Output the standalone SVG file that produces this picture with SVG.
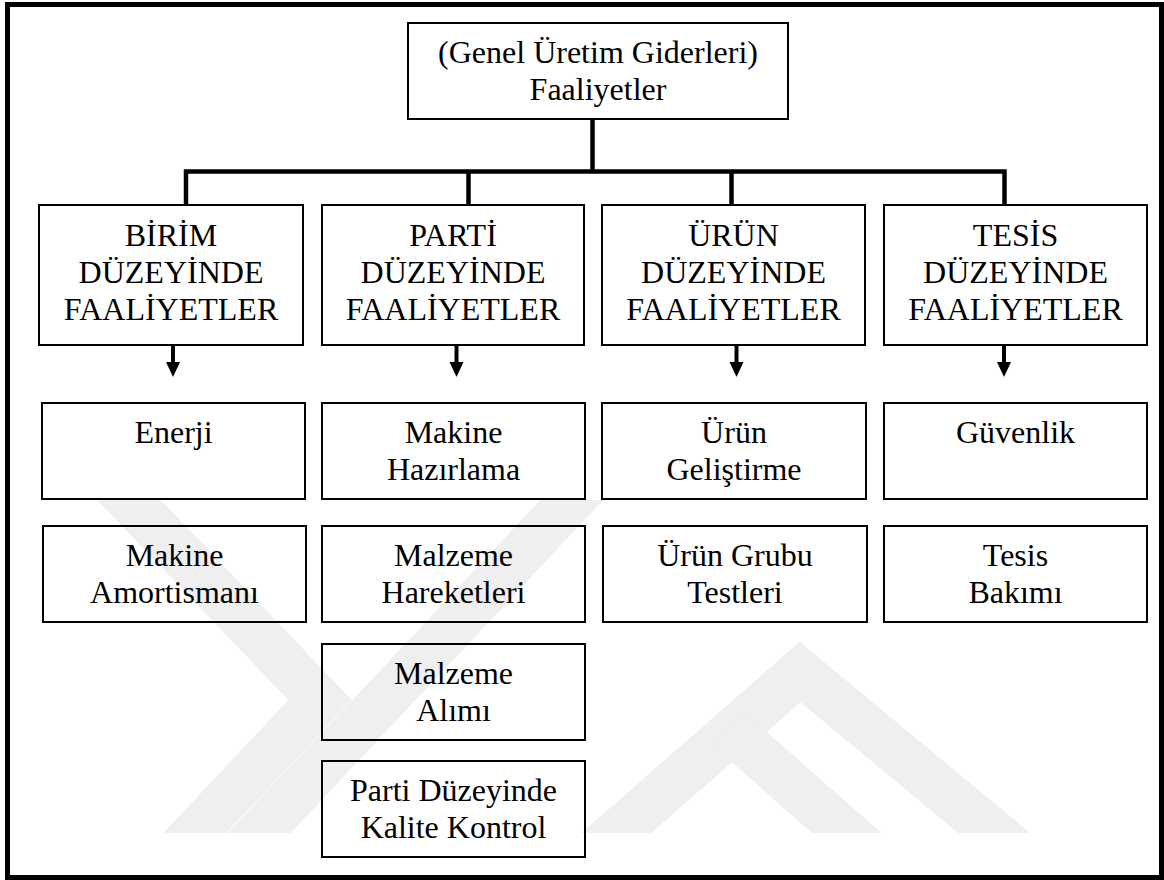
<svg xmlns="http://www.w3.org/2000/svg" width="1164" height="880" viewBox="0 0 1164 880">
<style>
.box{fill:none;stroke:#000;stroke-width:2}
.t{font-family:'Liberation Serif','Times New Roman',serif;font-size:32px;fill:#000;text-anchor:middle}
.wm{stroke:#efefef;stroke-width:46;fill:none;stroke-linecap:butt;stroke-linejoin:miter}
.conn{stroke:#000;stroke-width:4.5;fill:none}
</style>
<defs>
<clipPath id="wmclip"><rect x="0" y="500" width="1164" height="333"/></clipPath>
</defs>
<rect x="0" y="0" width="1164" height="880" fill="#fff"/>
<g id="watermark" clip-path="url(#wmclip)">
<path class="wm" d="M110,480 L320,700 L160,870"/>
<path class="wm" d="M600,470 L215,880"/>
<path class="wm" d="M540,900 L800,672 L1075,900"/>
<path class="wm" d="M900,880 L730,730"/>
</g>
<rect x="7.5" y="4.5" width="1154" height="873" fill="none" stroke="#000" stroke-width="5"/>
<g id="connectors">
<path class="conn" d="M592.5,119 V171.5"/>
<path class="conn" d="M186,205 V171.5 H1004.5 V205"/>
<path class="conn" d="M468.5,171.5 V205"/>
<path class="conn" d="M731.5,171.5 V205"/>
<g stroke="#000" stroke-width="4">
<line x1="173" y1="345" x2="173" y2="364"/>
<line x1="456.5" y1="345" x2="456.5" y2="364"/>
<line x1="736.5" y1="345" x2="736.5" y2="364"/>
<line x1="1004" y1="345" x2="1004" y2="364"/>
</g>
<g fill="#000">
<polygon points="166,362 180,362 173,377"/>
<polygon points="449.5,362 463.5,362 456.5,377"/>
<polygon points="729.5,362 743.5,362 736.5,377"/>
<polygon points="997,362 1011,362 1004,377"/>
</g>
</g>
<g id="root">
<rect class="box" x="408" y="23" width="380" height="96" fill="#fff"/>
<text class="t" x="598" y="63">(Genel Üretim Giderleri)</text>
<text class="t" x="598" y="100">Faaliyetler</text>
</g>
<g id="birim">
<rect class="box" x="39" y="205" width="264" height="140"/>
<text class="t" x="171" y="246">BİRİM</text>
<text class="t" x="171" y="283">DÜZEYİNDE</text>
<text class="t" x="171" y="320">FAALİYETLER</text>
</g>
<g id="parti">
<rect class="box" x="322" y="205" width="262" height="140"/>
<text class="t" x="453" y="246">PARTİ</text>
<text class="t" x="453" y="283">DÜZEYİNDE</text>
<text class="t" x="453" y="320">FAALİYETLER</text>
</g>
<g id="urun">
<rect class="box" x="602" y="205" width="263" height="140"/>
<text class="t" x="733.5" y="246">ÜRÜN</text>
<text class="t" x="733.5" y="283">DÜZEYİNDE</text>
<text class="t" x="733.5" y="320">FAALİYETLER</text>
</g>
<g id="tesis">
<rect class="box" x="884" y="205" width="263" height="140"/>
<text class="t" x="1015.5" y="246">TESİS</text>
<text class="t" x="1015.5" y="283">DÜZEYİNDE</text>
<text class="t" x="1015.5" y="320">FAALİYETLER</text>
</g>
<g id="enerji">
<rect class="box" x="42" y="403" width="263" height="96"/>
<text class="t" x="173.5" y="443">Enerji</text>
</g>
<g id="makine-amortismani">
<rect class="box" x="43" y="526" width="263" height="96"/>
<text class="t" x="174.5" y="566">Makine</text>
<text class="t" x="174.5" y="603">Amortismanı</text>
</g>
<g id="makine-hazirlama">
<rect class="box" x="322" y="403" width="263" height="96"/>
<text class="t" x="453.5" y="443">Makine</text>
<text class="t" x="453.5" y="480">Hazırlama</text>
</g>
<g id="malzeme-hareketleri">
<rect class="box" x="322" y="526" width="263" height="96"/>
<text class="t" x="453.5" y="566">Malzeme</text>
<text class="t" x="453.5" y="603">Hareketleri</text>
</g>
<g id="malzeme-alimi">
<rect class="box" x="322" y="644" width="263" height="96"/>
<text class="t" x="453.5" y="684">Malzeme</text>
<text class="t" x="453.5" y="721">Alımı</text>
</g>
<g id="kalite-kontrol">
<rect class="box" x="322" y="761" width="263" height="96"/>
<text class="t" x="453.5" y="801">Parti Düzeyinde</text>
<text class="t" x="453.5" y="838">Kalite Kontrol</text>
</g>
<g id="urun-gelistirme">
<rect class="box" x="602" y="403" width="264" height="96"/>
<text class="t" x="734" y="443">Ürün</text>
<text class="t" x="734" y="480">Geliştirme</text>
</g>
<g id="urun-grubu">
<rect class="box" x="603" y="526" width="264" height="96"/>
<text class="t" x="735" y="566">Ürün Grubu</text>
<text class="t" x="735" y="603">Testleri</text>
</g>
<g id="guvenlik">
<rect class="box" x="884" y="403" width="263" height="96"/>
<text class="t" x="1015.5" y="443">Güvenlik</text>
</g>
<g id="tesis-bakimi">
<rect class="box" x="884" y="526" width="263" height="96"/>
<text class="t" x="1015.5" y="566">Tesis</text>
<text class="t" x="1015.5" y="603">Bakımı</text>
</g>
</svg>
